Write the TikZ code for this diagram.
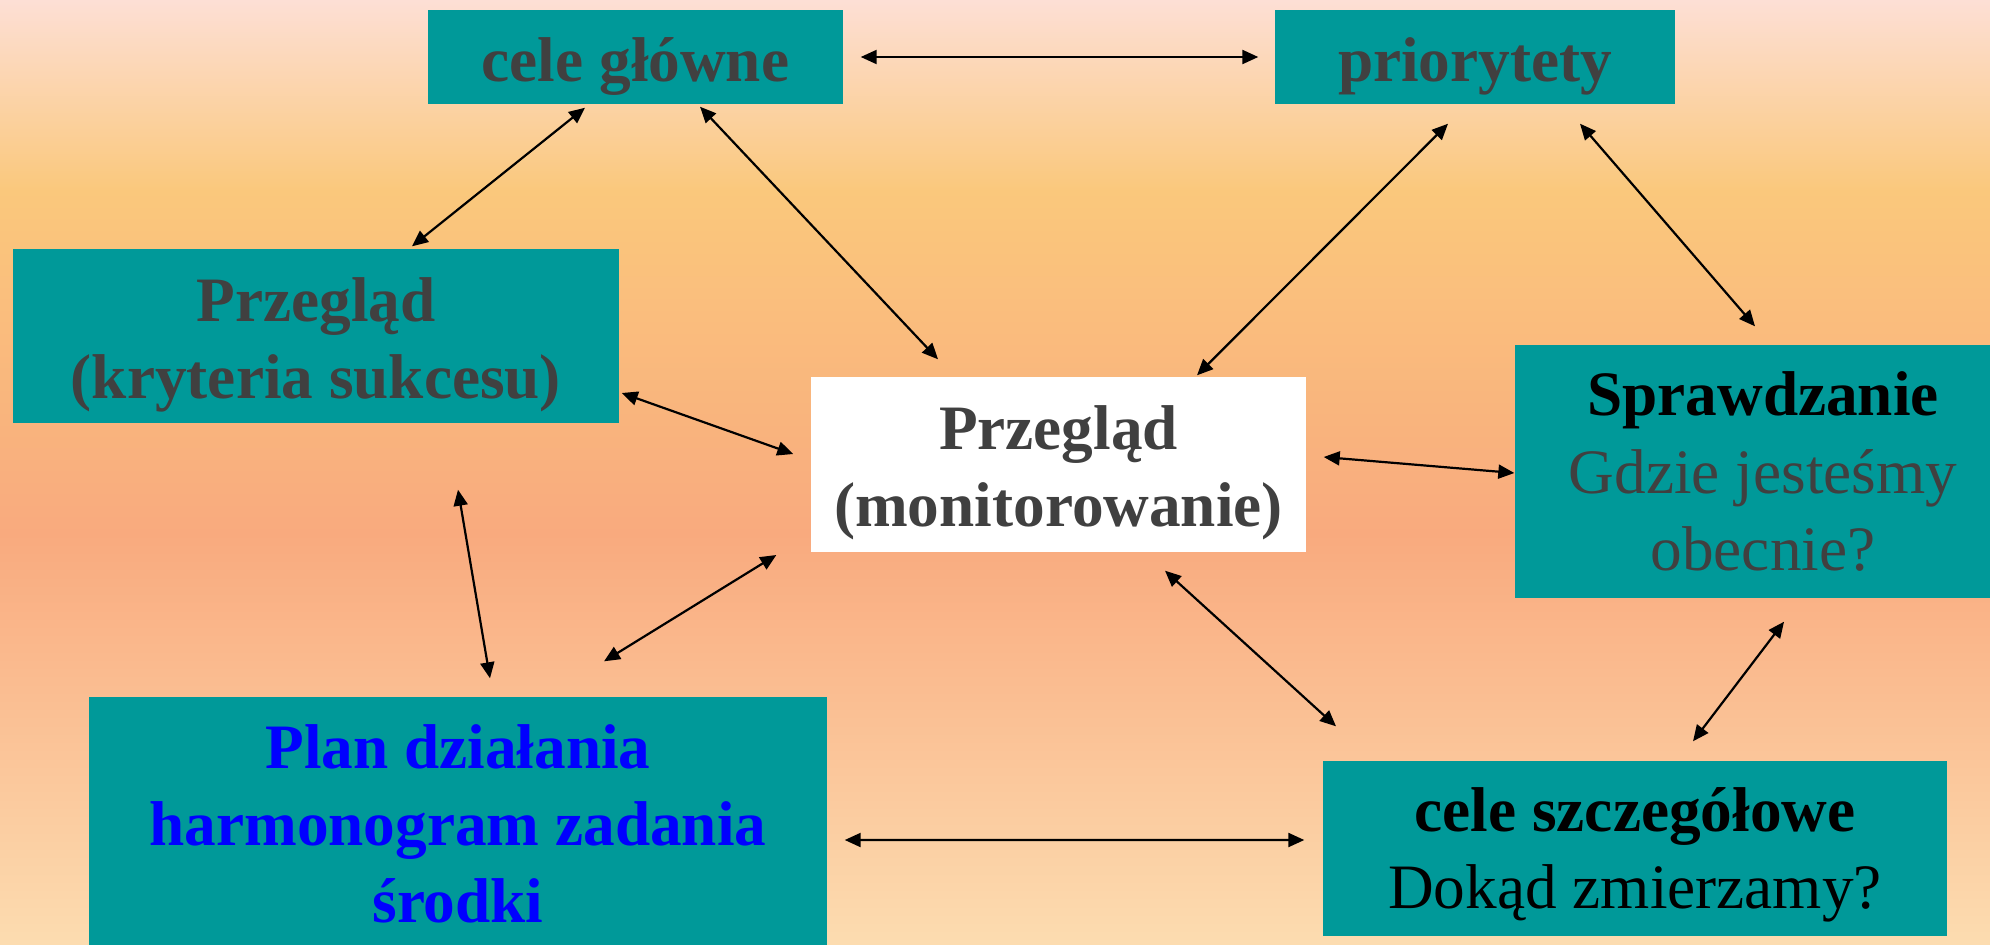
\documentclass[tikz,border=0pt]{standalone}
\usepackage{fontspec}
\setmainfont{Liberation Serif}
\usepackage{xcolor}
\usetikzlibrary{arrows.meta}
\definecolor{tealbox}{HTML}{009999}
\definecolor{greytext}{HTML}{404040}
\definecolor{bgtop}{HTML}{FDDFD5}
\definecolor{bgorange}{HTML}{FAC87C}
\definecolor{bgsalmon}{HTML}{F9AA7E}
\definecolor{bgbottom}{HTML}{FCDCB0}
\newcommand{\lowr}[1]{\rule{0pt}{#1}}

\begin{document}
\begin{tikzpicture}[
 box/.style={rectangle,fill=tealbox,inner sep=0pt,align=center,text=greytext,
  font=\fontsize{18}{22}\selectfont\bfseries},
 link/.style={{Triangle[length=0.16cm,width=0.14cm]}-{Triangle[length=0.16cm,width=0.14cm]},line width=0.022cm,black}]
% background
\useasboundingbox (0,0) rectangle (19.9,-9.44);
\fill[top color=bgtop,bottom color=bgorange] (0,0) rectangle (19.9,-1.91);
\fill[top color=bgorange,bottom color=bgsalmon] (0,-1.90) rectangle (19.9,-5.34);
\fill[top color=bgsalmon,bottom color=bgbottom] (0,-5.33) rectangle (19.9,-9.44);
% boxes
\node[box,minimum width=4.15cm,minimum height=0.94cm] (glowne) at (6.355,-0.57) {\lowr{0.62cm}cele główne};
\node[box,minimum width=4.00cm,minimum height=0.94cm] (prio) at (14.75,-0.57) {\lowr{0.62cm}priorytety};
\node[box,minimum width=6.06cm,minimum height=1.74cm] (kryt) at (3.16,-3.36) {\lowr{0.61cm}Przegląd\\(kryteria sukcesu)};
\node[box,fill=white,minimum width=4.95cm,minimum height=1.75cm] (monit) at (10.585,-4.645) {\lowr{0.61cm}Przegląd\\(monitorowanie)};
\node[box,minimum width=4.96cm,minimum height=2.53cm] (spraw) at (17.63,-4.715)
 {{\color{black}Sprawdzanie}\\\mdseries Gdzie jesteśmy\\\mdseries obecnie?};
\node[box,text=blue,minimum width=7.38cm,minimum height=2.54cm] (plan) at (4.58,-8.24)
 {Plan działania\\harmonogram zadania\\środki};
\node[box,text=black,minimum width=6.24cm,minimum height=1.75cm] (szcz) at (16.35,-8.485)
 {\lowr{0.56cm}cele szczegółowe\\\mdseries Dokąd zmierzamy?};
% links
\draw[link] ([xshift=0.17cm]glowne.east) -- ([xshift=-0.16cm]prio.west);
\draw[link] ([xshift=-0.505cm,yshift=-0.03cm]glowne.south) -- ([xshift=0.96cm,yshift=0.02cm]kryt.north);
\draw[link] ([xshift=0.645cm,yshift=-0.02cm]glowne.south) -- ([xshift=-1.205cm,yshift=0.17cm]monit.north);
\draw[link] ([xshift=-0.27cm,yshift=-0.19cm]prio.south) -- ([xshift=1.385cm,yshift=0.01cm]monit.north);
\draw[link] ([xshift=1.05cm,yshift=-0.19cm]prio.south) -- ([xshift=-0.08cm,yshift=0.18cm]spraw.north);
\draw[link] ([xshift=0.02cm,yshift=-0.57cm]kryt.east) -- ([xshift=-0.17cm,yshift=0.105cm]monit.west);
\draw[link] ([xshift=0.17cm,yshift=0.075cm]monit.east) -- ([yshift=-0.015cm]spraw.west);
\draw[link] ([xshift=1.42cm,yshift=-0.66cm]kryt.south) -- ([xshift=0.32cm,yshift=0.18cm]plan.north);
\draw[link] ([xshift=-0.34cm,yshift=-0.905cm]monit.west) -- ([xshift=1.46cm,yshift=0.35cm]plan.north);
\draw[link] ([xshift=1.065cm,yshift=-0.18cm]monit.south) -- ([xshift=-2.99cm,yshift=0.34cm]szcz.north);
\draw[link] ([xshift=0.21cm,yshift=-0.23cm]spraw.south) -- ([xshift=0.58cm,yshift=0.19cm]szcz.north);
\draw[link] ([xshift=0.17cm,yshift=-0.16cm]plan.east) -- ([xshift=-0.18cm,yshift=0.085cm]szcz.west);
\end{tikzpicture}
\end{document}
